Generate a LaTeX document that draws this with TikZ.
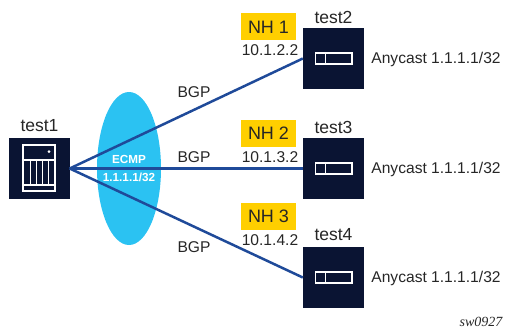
\documentclass[tikz,border=0pt]{standalone}
\usepackage{fontspec}
\usetikzlibrary{shapes.geometric}
\setmainfont{Liberation Sans}
\newfontfamily\tagfont{Liberation Serif}
\definecolor{qqnavy}{rgb}{0.04,0.08,0.2}
\definecolor{qqblue}{rgb}{0.12,0.29,0.6}
\definecolor{qqcyan}{rgb}{0.17,0.76,0.95}
\definecolor{qqgold}{rgb}{1,0.81,0}
\tikzset{
    hostbox/.style={fill=qqnavy,minimum size=61pt,inner sep=0pt},
    nhbox/.style={fill=qqgold,text=black!85,minimum width=55pt,minimum height=27pt,inner sep=0pt,font=\fontsize{18}{18}\selectfont},
    txtlabel/.style={text=black!85,inner sep=0pt,font=\fontsize{15.6}{16}\selectfont},
    hostlabel/.style={text=black!85,inner sep=0pt,font=\fontsize{17.5}{18}\selectfont},
    ecmplabel/.style={inner sep=0pt,text=white,font=\bfseries\fontsize{11.7}{12}\selectfont},
    linkline/.style={line width=2.5pt,color=qqblue},
    iconline/.style={line width=1.5pt,color=white},
}
\begin{document}
\begin{tikzpicture}[x=1pt,y=-1pt]
    \useasboundingbox (0,0) rectangle (505,329);
    \node[fill=qqcyan,ellipse,minimum width=64pt,minimum height=153pt,inner sep=0pt] (ecmp) at (129,168.5) {};
    \node[hostbox] (test1) at (39,168.5) {};
    \node[hostbox] (test2) at (333.5,58.5) {};
    \node[hostbox] (test3) at (333.5,168.5) {};
    \node[hostbox] (test4) at (333.5,277.5) {};
    \draw[linkline] (test1.east) -- (test2.west);
    \draw[linkline] (test1.east) -- (test3.west);
    \draw[linkline] (test1.east) -- (test4.west);
    \node[hostlabel] (name1) at (39.5,126) {test1};
    \node[hostlabel] (name2) at (333.5,17) {test2};
    \node[hostlabel] (name3) at (333.5,127) {test3};
    \node[hostlabel] (name4) at (333.5,235) {test4};
    \node[nhbox] (nh1) at (268.5,27) {NH 1};
    \node[nhbox] (nh2) at (268.5,133.5) {NH 2};
    \node[nhbox] (nh3) at (268.5,216.7) {NH 3};
    \node[txtlabel] (ip1) at (270,50.5) {10.1.2.2};
    \node[txtlabel] (ip2) at (270,157) {10.1.3.2};
    \node[txtlabel] (ip3) at (270,240.5) {10.1.4.2};
    \node[txtlabel] (any1) at (436,59) {Anycast 1.1.1.1/32};
    \node[txtlabel] (any2) at (436,169) {Anycast 1.1.1.1/32};
    \node[txtlabel] (any3) at (436,278) {Anycast 1.1.1.1/32};
    \node[txtlabel] (bgp1) at (194,92) {BGP};
    \node[txtlabel] (bgp2) at (194,157) {BGP};
    \node[txtlabel] (bgp3) at (194,247) {BGP};
    \node[ecmplabel] (ecmptxt) at (129,159.5) {ECMP};
    \node[ecmplabel] (prefix) at (129,177.5) {1.1.1.1/32};
    \node[inner sep=0pt,font=\tagfont\itshape\fontsize{14}{14}\selectfont,text=black!85] (tag) at (481,321.5) {sw0927};
    \draw[iconline] (23,145) rectangle (55,191);
    \draw[iconline] (23,160) -- (55,160);
    \draw[iconline] (23,185) -- (55,185);
    \foreach \x in {30.5,36.5,42.5,48.5} {
        \draw[iconline] (\x,160) -- (\x,185);
    }
    \fill[white] (49,151.5) circle (1.5pt);
    \foreach \y in {58.5,168.5,277.5} {
        \draw[iconline] (315.5,\y-5.5) rectangle (352,\y+5.5);
        \draw[iconline] (325.5,\y-5.5) -- (325.5,\y+5.5);
    }
\end{tikzpicture}
\end{document}
